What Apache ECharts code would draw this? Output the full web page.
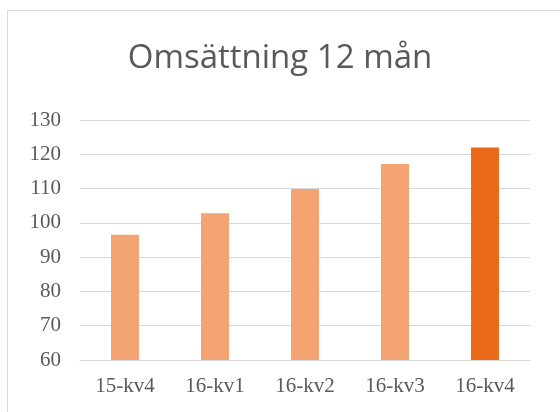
<!DOCTYPE html>
<html><head><meta charset="utf-8">
<script src="https://cdn.jsdelivr.net/npm/echarts@6/dist/echarts.min.js"></script>
<style>html,body{margin:0;padding:0;background:#fff}#c{width:560px;height:412px}</style>
</head><body><div id="c"></div>
<script>
const categories = ['15-kv4','16-kv1','16-kv2','16-kv3','16-kv4'];
const values = [96.5, 102.8, 109.9, 117.2, 122.0];
const yTicks = [60,70,80,90,100,110,120,130];

const lightColor = '#F4A372';
const darkColor = '#EB6A19';
const chart = echarts.init(document.getElementById('c'));
chart.setOption({
  animation: false,
  graphic: [{type:'rect', shape:{x:7.5,y:10.5,width:600,height:500}, style:{fill:'none',stroke:'#d9d9d9',lineWidth:1}, silent:true}],
  title: {text:'Omsättning 12 mån', left:'center', top:37,
    textStyle:{fontFamily:'Open Sans', fontWeight:'normal', fontSize:33, color:'#595959'}},
  grid: {left:80, right:30, top:120, bottom:52},
  xAxis: {type:'category', data:categories,
    axisLine:{show:true, lineStyle:{color:'#d9d9d9'}}, axisTick:{show:false},
    axisLabel:{fontFamily:'Liberation Serif', fontSize:21, color:'#595959', margin:16}},
  yAxis: {type:'value', min:yTicks[0], max:yTicks[yTicks.length-1], interval:10,
    axisLine:{show:false}, axisTick:{show:false},
    splitLine:{lineStyle:{color:'#d9d9d9', width:1}},
    axisLabel:{fontFamily:'Liberation Serif', fontSize:21, color:'#595959', margin:19}},
  series: [{type:'bar', barWidth:28,
    data: values.map((v,i)=>({value:v, itemStyle:{color: i===values.length-1 ? darkColor : lightColor}}))}]
});
</script></body></html>
